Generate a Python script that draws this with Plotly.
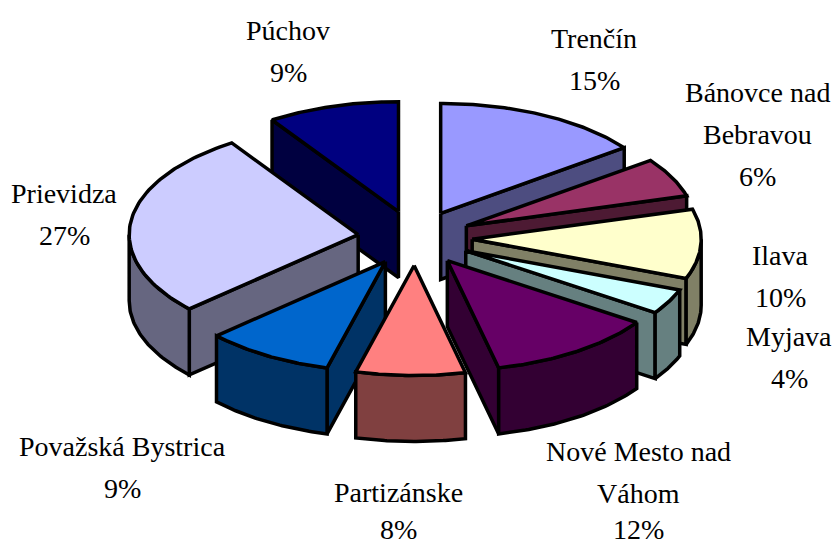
import numpy as np
import plotly.graph_objects as go

categories = ["Trenčín", "Bánovce nad|Bebravou", "Ilava", "Myjava", "Nové Mesto nad|Váhom",
              "Partizánske", "Považská Bystrica", "Prievidza", "Púchov"]
values = [14.8, 5.8, 10.2, 3.7, 11.9, 7.7, 9.1, 27.49, 9.31]
top_colors = ["#9999FF", "#993366", "#FFFFCC", "#CCFFFF", "#660066", "#FF8080", "#0066CC", "#CCCCFF", "#000080"]
side_colors = ["#4D4D80", "#4D1A33", "#808066", "#668080", "#330033", "#804040", "#003366", "#666680", "#000040"]
label_x = [594, 757, 780, 789, 638, 398, 122, 64, 288]
label_y = [38, 92, 255, 336, 451, 492, 446, 193, 30]
draw_order = [0, 8, 1, 2, 7, 3, 6, 4, 5]

CX, CY, RX, RY, DEPTH, PULL = 415, 238, 229, 110, 66, 0.25
LINE_STEP = 42
LOWEST_LINE = 529

def pt(ox, oy, th):
    return ox + RX * np.sin(th), oy - RY * np.cos(th)

fracs = np.array(values, float) / sum(values)
edges = np.concatenate([[0], np.cumsum(fracs)]) * 2 * np.pi

fig = go.Figure()

def poly(xs, ys, color):
    fig.add_trace(go.Scatter(x=list(xs), y=list(ys), mode="lines", fill="toself", fillcolor=color,
                             line=dict(color="black", width=3.5), hoverinfo="skip", showlegend=False))

for i in draw_order:
    a, b = edges[i], edges[i + 1]
    mid = (a + b) / 2
    ox, oy = CX + PULL * RX * np.sin(mid), CY - PULL * RY * np.cos(mid)
    for th, visible in ((a, np.sin(a) < 0), (b, np.sin(b) > 0)):
        if visible:
            x1, y1 = pt(ox, oy, th)
            poly([ox, x1, x1, ox, ox], [oy, y1, y1 + DEPTH, oy + DEPTH, oy], side_colors[i])
    lo, hi = max(a, np.pi / 2), min(b, 3 * np.pi / 2)
    if hi > lo:
        t = np.linspace(lo, hi, 50)
        x1, y1 = pt(ox, oy, t)
        poly(np.r_[x1, x1[::-1], x1[0]], np.r_[y1, y1[::-1] + DEPTH, y1[0]], side_colors[i])
    t = np.linspace(a, b, 80)
    x1, y1 = pt(ox, oy, t)
    poly(np.r_[ox, x1, ox], np.r_[oy, y1, oy], top_colors[i])

for cat, val, x, y in zip(categories, values, label_x, label_y):
    for n, line in enumerate(cat.split("|") + [f"{round(val)}%"]):
        fig.add_annotation(x=x, y=min(y + n * LINE_STEP, LOWEST_LINE), text=line, showarrow=False,
                           xanchor="center", yanchor="middle",
                           font=dict(family="Liberation Serif", size=28, color="black"))

fig.update_xaxes(range=[0, 835], visible=False)
fig.update_yaxes(range=[546, 0], visible=False)
fig.update_layout(width=835, height=546, margin=dict(l=0, r=0, t=0, b=0),
                  paper_bgcolor="white", plot_bgcolor="white", showlegend=False)
fig.write_html("out.html", config={"displayModeBar": False},
               post_script="document.body.style.margin='0';document.body.style.overflow='hidden';")
